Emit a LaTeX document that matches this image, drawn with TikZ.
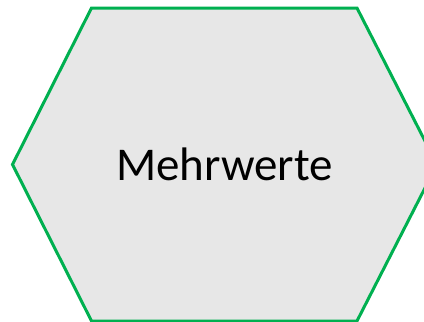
\documentclass[tikz,border=0pt]{standalone}
\usepackage{fontspec}
\setmainfont{Carlito}
\definecolor{hexgreen}{RGB}{0,176,80}
\definecolor{hexfill}{RGB}{231,231,231}
\tikzset{hexshape/.style={draw=hexgreen,fill=hexfill,line width=3pt,line join=miter},
  hexlabel/.style={font=\fontsize{47}{56}\selectfont,text=black}}
\begin{document}
\begin{tikzpicture}[x=1pt,y=-1pt]
\useasboundingbox (0,0) rectangle (424,322);
\clip (0,0) rectangle (424,322);
\coordinate (tl) at (91.5,8);
\coordinate (tr) at (357,8);
\coordinate (r) at (437,164.5);
\coordinate (br) at (357,321);
\coordinate (bl) at (91.5,321);
\coordinate (l) at (12.5,164.5);
\draw[hexshape] (tl) -- (tr) -- (r) -- (br) -- (bl) -- (l) -- cycle;
\node[hexlabel] (label) at (224.5,164.5) {Mehrwerte};
\end{tikzpicture}
\end{document}
